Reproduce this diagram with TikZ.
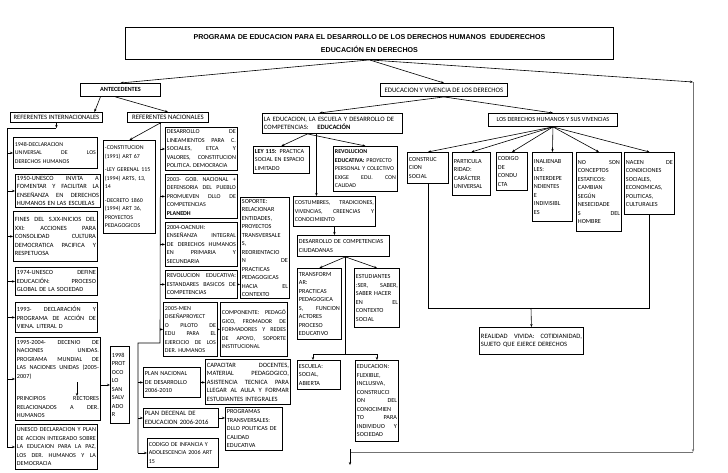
\documentclass[tikz,border=0pt]{standalone}
\usepackage{fontspec}
\setmainfont{Carlito}
\newfontfamily\arialf{Liberation Sans}
\usetikzlibrary{arrows.meta,calc}
\newcommand\J[1]{{\spaceskip=.25em plus 1fil minus .12em\makebox[\linewidth][s]{#1}}}
\tikzset{
 bx/.style={draw, line width=0.9pt, inner xsep=1.5pt, inner ysep=1pt, align=left, anchor=north west},
 hd/.style={draw, line width=0.9pt, inner sep=1pt, align=center, anchor=north west},
 conn/.style={line width=0.6pt},
 arr/.style={conn, -{Stealth[length=3pt,width=2.4pt]}},
 grayconn/.style={line width=0.6pt, draw=black!55},
}
\newcommand\bx[7][6.2]{\node[bx, font=\fontsize{#1}{8.5}\selectfont, minimum width=#5pt, minimum height=#6pt, text width={\dimexpr#5pt-3pt\relax}] (#2) at (#3,#4) {#7};}
\newcommand\hb[7][6.8]{\node[hd, font=\fontsize{#1}{8.5}\selectfont, minimum width=#5pt, minimum height=#6pt] (#2) at (#3,#4) {#7};}
\begin{document}
\begin{tikzpicture}[x=1pt,y=-1pt]
\useasboundingbox (0,0) rectangle (728,472);
% title
\node[draw, line width=0.9pt, anchor=north west, minimum width=488pt, minimum height=32pt, align=center,
  font=\arialf\bfseries\fontsize{7.1}{8}\selectfont] (T) at (125,27)
  {PROGRAMA DE EDUCACION PARA EL DESARROLLO DE LOS DERECHOS HUMANOS \ EDUDERECHOS\\[5.5pt]EDUCACIÓN EN DERECHOS};
% headers
\hb[6.3]{ANT}{80}{83}{80}{13}{\textbf{ANTECEDENTES}}
\hb[6.6]{REFINT}{10}{112}{92}{10}{REFERENTES INTERNACIONALES}
\hb{REFNAC}{127}{112}{81}{10}{REFERENTES NACIONALES}
\hb{EDUVIV}{380}{83}{127}{13}{EDUCACION Y VIVENCIA DE LOS DERECHOS}
\hb[6.3]{LOSDER}{488}{113}{129}{13}{LOS DERECHOS HUMANOS Y SUS VIVENCIAS}
\bx[6.6]{LAEDU}{262}{113}{140}{20}{LA EDUCACION, LA ESCUELA Y DESARROLLO DE\\COMPETENCIAS: \quad\textbf{EDUCACIÓN}}
% left column
\bx[5.9]{L1}{13}{137}{84}{31}{1948-DECLARACION\\\J{UNIVERSAL DE LOS}\\DERECHOS HUMANOS}
\bx[6.4]{L2}{15}{174}{85}{33}{\J{1950-UNESCO INVITA A}\\\J{FOMENTAR Y FACILITAR LA}\\\J{ENSEÑANZA EN DERECHOS}\\HUMANOS EN LAS ESCUELAS}
\bx[6.4]{L3}{13}{211}{84}{50}{\J{FINES DEL S.XX-INICIOS DEL}\\\J{XXI: ACCIONES PARA}\\\J{CONSOLIDAD CULTURA}\\\J{DEMOCRATICA PACIFICA Y}\\RESPETUOSA}
\bx[6.3]{L4}{15}{267}{82}{28}{\J{1974-UNESCO DEFINE}\\\J{EDUCACIÓN: PROCESO}\\GLOBAL DE LA SOCIEDAD}
\bx[6.3]{L5}{15}{302}{82}{30}{\J{1993- DECLARACIÓN Y}\\\J{PROGRAMA DE ACCIÓN DE}\\VIENA. LITERAL D}
\bx{L6}{15}{337}{85}{83}{\J{1995-2004- DECENIO DE}\\\J{NACIONES UNIDAS.}\\\J{PROGRAMA MUNDIAL DE}\\\J{LAS NACIONES UNIDAS (2005-}\\2007)\\[14pt]\J{PRINCIPIOS RECTORES}\\\J{RELACIONADOS A DER.}\\HUMANOS}
\bx[6.1]{L7}{15}{424}{82}{45}{\J{UNESCO DECLARACION Y PLAN}\\\J{DE ACCION INTEGRADO SOBRE}\\\J{LA EDUCAION PARA LA PAZ,}\\\J{LOS DER. HUMANOS Y LA}\\DEMOCRACIA}
\bx{P98}{110}{346}{19}{77}{1998\\PROT\\OCO\\LO\\SAN\\SALV\\ADO\\R}
% national column
\bx[5.9]{CONST}{103}{140}{52}{93}{-CONSTITUCION\\(1991) ART 67\\[5pt]-LEY GERENAL 115\\(1994) ARTS, 13,\\14\\[5pt]-DECRETO 1860\\(1994) ART 36,\\PROYECTOS\\PEDAGOGICOS}
\bx[6.1]{D1}{165}{127}{72}{43}{\J{DESARROLLO DE}\\\J{LINEAMIENTOS PARA C.}\\\J{SOCIALES, ETCA Y}\\\J{VALORES, CONSTITUCION}\\POLITICA. DEMOCRACIA}
\bx[6.0]{D2}{165}{174}{72}{44}{\J{2003- GOB. NACIONAL +}\\\J{DEFENSORIA DEL PUEBLO}\\\J{PROMUEVEN DLLO DE}\\COMPETENCIAS\\\textbf{PLANEDH}}
\bx[6.1]{D3}{165}{222}{72}{44}{2004-OACNUH:\\\J{ENSEÑANZA INTEGRAL}\\\J{DE DERECHOS HUMANOS}\\\J{EN PRIMARIA Y}\\SECUNDARIA}
\bx[6.1]{D4}{165}{270}{72}{28}{\J{REVOLUCION EDUCATIVA:}\\\J{ESTANDARES BASICOS DE}\\COMPETENCIAS}
\bx[6.0]{D5}{163}{302}{54}{54}{2005-MEN\\DISEÑAPROYECT\\\J{O PILOTO DE}\\\J{EDU PARA EL}\\\J{EJERCICIO DE LOS}\\DER. HUMANOS}
\bx{PN}{143}{367}{57}{30}{PLAN NACIONAL\\DE DESARROLLO\\2006-2010}
\bx[6.6]{PD}{143}{408}{75}{19}{PLAN DECENAL DE\\EDUCACION 2006-2016}
\bx[6.0]{CI}{147}{438}{71}{29}{CODIGO DE INFANCIA Y\\ADOLESCENCIA 2006 ART\\15}
% middle
\bx{SOP}{240}{197}{49}{101}{SOPORTE:\\RELACIONAR\\ENTIDADES,\\PROYECTOS\\TRANSVERSALE\\S,\\REORIENTACIO\\\J{N DE}\\PRACTICAS\\PEDAGOGICAS\\\J{HACIA EL}\\CONTEXTO}
\bx[6.0]{COMP}{220}{302}{67}{54}{\J{COMPONENTE: PEDAGÓ}\\\J{GICO, FROMADOR DE}\\\J{FORMADORES Y REDES}\\\J{DE APOYO, SOPORTE}\\INSTITUCIONAL}
\bx[6.5]{CAP}{205}{359}{85}{45}{\J{CAPACITAR DOCENTES,}\\\J{MATERIAL PEDAGOGICO,}\\\J{ASISTENCIA TECNICA PARA}\\\J{LLEGAR AL AULA Y FORMAR}\\ESTUDIANTES INTEGRALES}
\bx{PROG}{225}{407}{57}{43}{PROGRAMAS\\TRANSVERSALES:\\DLLO POLITICAS DE\\CALIDAD\\EDUCATIVA}
\bx[6.1]{LEY}{253}{146}{56}{27}{\textbf{LEY 115:} PRACTICA\\SOCIAL EN ESPACIO\\LIMITADO}
\bx[5.9]{REV}{333}{146}{64}{45}{\textbf{REVOLUCION}\\\textbf{EDUCATIVA:} PROYECTO\\PERSONAL Y COLECTIVO\\\J{EXIGE EDU. CON}\\CALIDAD}
\bx[6.0]{COST}{293}{196}{82}{30}{\J{COSTUMBRES, TRADICIONES,}\\\J{VIVENCIAS, CREENCIAS Y}\\CONOCIMIENTO}
\bx{DESCOMP}{297}{235}{92}{21}{DESARROLLO DE COMPETENCIAS\\CIUDADANAS}
\bx{TRANS}{297}{268}{44}{71}{TRANSFORM\\AR:\\PRACTICAS\\PEDAGOGICA\\\J{S, FUNCION}\\ACTORES\\PROCESO\\EDUCATIVO}
\bx{EST}{354}{268}{45}{59}{ESTUDIANTES\\\J{:SER, SABER,}\\SABER HACER\\\J{EN EL}\\CONTEXTO\\SOCIAL}
\bx{ESC}{297}{360}{43}{29}{ESCUELA:\\SOCIAL,\\ABIERTA}
\bx{EDUC}{355}{360}{43}{81}{EDUCACION:\\FLEXIBLE,\\INCLUSIVA,\\CONSTRUCCI\\\J{ON DEL}\\CONOCIMIEN\\\J{TO PARA}\\\J{INDIVIDUO Y}\\SOCIEDAD}
% right
\bx{CONSTR}{407}{152}{41}{31}{CONSTRUC\\CION\\SOCIAL}
\bx{PART}{452}{152}{38}{43}{PARTICULA\\RIDAD:\\CARÁCTER\\UNIVERSAL}
\bx{COD}{496}{152}{31}{38}{CODIGO\\DE\\CONDU\\CTA}
\bx{INAL}{532}{152}{40}{69}{INALIENAB\\LES:\\INTERDEPE\\NDIENTES\\E\\INDIVISIBL\\ES}
\bx{NOSON}{576}{152}{45}{79}{\J{NO SON}\\CONCEPTOS\\ESTATICOS:\\CAMBIAN\\SEGÚN\\NESECIDADE\\\J{S DEL}\\HOMBRE}
\bx{NACEN}{624}{152}{50}{62}{\J{NACEN DE}\\CONDICIONES\\SOCIALES,\\ECONOMICAS,\\POLITICAS,\\CULTURALES}
\bx[6.6]{REAL}{479}{327}{104}{27}{\J{REALIDAD VIVIDA: COTIDIANIDAD,}\\SUJETO QUE EJERCE DERECHOS}
% ---- connectors ----
\draw[arr] (T.south) -- (ANT.north);
\draw[arr] (T.south) -- (EDUVIV.north);
\coordinate (g1) at (693,82);
\coordinate (g2) at (693,452);
\coordinate (g3) at (350,452);
\coordinate (g3a) at (350,449);
\coordinate (g4) at (350,465);
\draw[arr] (T.south) -- (g1);
\draw[grayconn, -{Stealth[length=3pt,width=2.4pt]}] (g1) -- (g2);
\draw[grayconn] (g2) -- (g3);
\draw[arr] (g3a) -- (g4);
% antecedentes
\draw[arr] ([xshift=-20pt]ANT.south) -- ([xshift=38pt]REFINT.north);
\draw[arr] ([xshift=-5pt]ANT.south) -- (REFNAC.north);
% international bus
\coordinate (lb) at (7,128);
\draw[arr] (REFINT.south) -- (REFINT.south |- lb);
\draw[conn] (REFINT.south |- lb) -- (lb) -- (lb |- L7.west);
\foreach \b in {L1,L2,L3,L4,L5,L6,L7} {\draw[arr] (lb |- \b.west) -- (\b.west);}
\draw[arr] (P98.west -| L6.east) -- (P98.west);
\draw[arr] ($(L6.north west)+(62,45)$) -- ++(0,14);
% national bus
\coordinate (nb) at ([xshift=-7.5pt]REFNAC.south);
\coordinate (nb1) at (160,343);
\coordinate (nb2) at (138,343);
\draw[arr] (nb) -- (CONST.north);
\draw[conn] (nb) -- (nb1) -- (nb2) -- (nb2 |- CI.west);
\foreach \b in {D1,D2,D3,D4,D5} {\draw[arr] (nb |- \b.west) -- (\b.west);}
\foreach \b in {PN,PD,CI} {\draw[arr] (nb2 |- \b.west) -- (\b.west);}
\draw[arr] (D4.east) -- (D4.east -| SOP.west);
\draw[arr] (D5.east) -- (D5.east -| COMP.west);
\draw[arr] (PN.east) -- (PN.east -| CAP.west);
\draw[arr] (PD.east) -- (PD.east -| PROG.west);
% education branch
\draw[arr] (EDUVIV.south) -- ([xshift=-13pt]LAEDU.north);
\draw[arr] (EDUVIV.south) -- (LOSDER.north);
\coordinate (le) at ([xshift=-25pt]LAEDU.south);
\draw[arr] (le) -- (LEY.north);
\draw[arr] (le) -- (REV.north);
\draw[arr] ([xshift=-16pt]LAEDU.south) -- ([xshift=-16pt]LAEDU.south |- COST.north);
\draw[arr] (COST.south) -- (COST.south |- DESCOMP.north);
\coordinate (dc) at ([xshift=2pt]DESCOMP.south);
\draw[arr] (dc) -- (TRANS.north);
\draw[arr] (dc) -- (EST.north);
\draw[arr] (dc) -- ++(0,97) -| ([xshift=-6pt]ESC.north);
\draw[arr] (dc) ++(0,97) -| (EDUC.north);
% rights branch
\foreach \b in {CONSTR,PART,COD,INAL,NOSON,NACEN} {\draw[arr] (LOSDER.south) -- (\b.north);}
\coordinate (rb) at (531,308);
\draw[conn] (CONSTR.south) -- (CONSTR.south |- rb) -- (NACEN.south |- rb) -- (NACEN.south);
\draw[arr] (rb) -- (REAL.north);
\end{tikzpicture}
\end{document}
